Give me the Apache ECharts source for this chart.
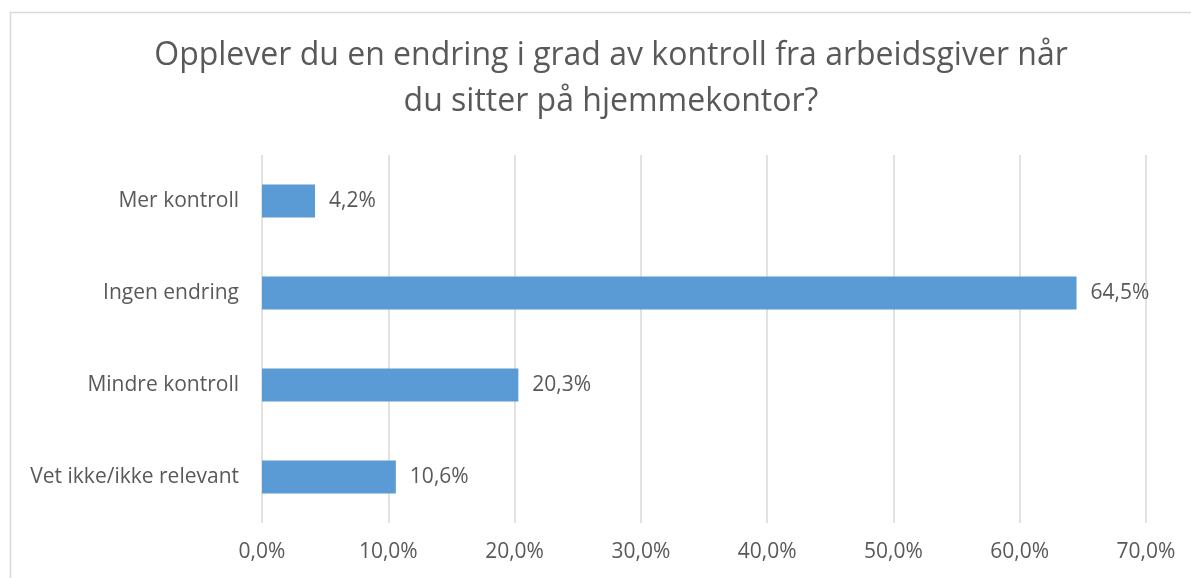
<!DOCTYPE html>
<html>
<head>
<meta charset="utf-8">
<script src="https://cdn.jsdelivr.net/npm/echarts@6/dist/echarts.min.js"></script>
<style>
  html, body { margin: 0; padding: 0; background: #fff; }
  #chart { width: 1191px; height: 578px; }
</style>
</head>
<body>
<div id="chart"></div>
<script>
// Chart data
const categories = ['Mer kontroll', 'Ingen endring', 'Mindre kontroll', 'Vet ikke/ikke relevant'];
const shares = [4.2, 64.5, 20.3, 10.6];
const axisTicks = [0, 10, 20, 30, 40, 50, 60, 70];

const titleText = 'Opplever du en endring i grad av kontroll fra arbeidsgiver når\ndu sitter på hjemmekontor?';
const textColor = '#595959';
const fontName = 'Open Sans';

function pct(v) {
    return v.toFixed(1).replace('.', ',') + '%';
}

const chart = echarts.init(document.getElementById('chart'));
chart.setOption({
    animation: false,
    textStyle: { fontFamily: fontName },
    graphic: [{
        type: 'rect',
        left: 8, top: 10,
        shape: { width: 1200, height: 600 },
        style: { fill: 'none', stroke: '#d9d9d9', lineWidth: 1.5 },
        silent: true
    }],
    title: {
        text: titleText,
        left: 606,
        top: 28,
        textAlign: 'center',
        textStyle: {
            color: textColor,
            fontSize: 32,
            fontWeight: 'normal',
            fontFamily: fontName,
            lineHeight: 46,
            align: 'center'
        }
    },
    grid: { left: 262, right: 45, top: 155, bottom: 55 },
    xAxis: {
        type: 'value',
        min: axisTicks[0],
        max: axisTicks[axisTicks.length - 1],
        interval: 10,
        axisLine: { show: false },
        axisTick: { show: false },
        splitLine: { lineStyle: { color: '#d9d9d9', width: 1.5 } },
        axisLabel: {
            color: textColor,
            fontSize: 21,
            margin: 19,
            formatter: pct
        }
    },
    yAxis: {
        type: 'category',
        inverse: true,
        data: categories,
        axisLine: { show: false },
        axisTick: { show: false },
        axisLabel: { color: textColor, fontSize: 21, margin: 23 }
    },
    series: [{
        type: 'bar',
        data: shares,
        barWidth: 33,
        itemStyle: { color: '#5b9bd5' },
        label: {
            show: true,
            position: 'right',
            distance: 14,
            color: textColor,
            fontSize: 21,
            formatter: p => pct(p.value)
        }
    }]
});
</script>
</body>
</html>
